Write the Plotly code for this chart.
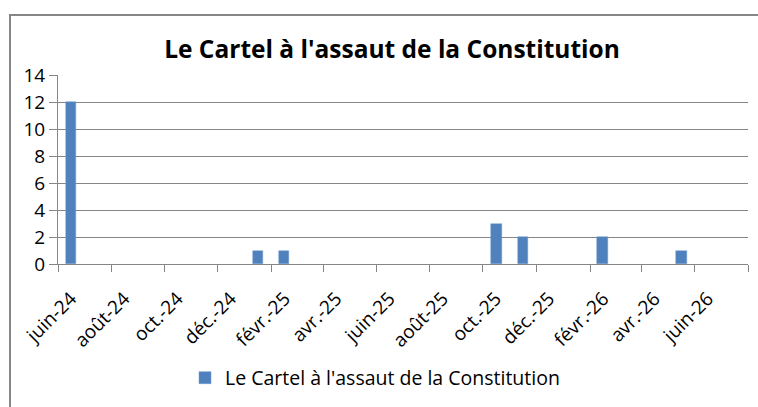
import plotly.graph_objects as go

# ---- data ----
series_name = "Le Cartel à l'assaut de la Constitution"
months = ["2024-06", "2025-01", "2025-02", "2025-10", "2025-11", "2026-02", "2026-05"]
values = [12, 1, 1, 3, 2, 2, 1]
tick_dates = ["2024-06-01", "2024-08-01", "2024-10-01", "2024-12-01", "2025-02-01",
              "2025-04-01", "2025-06-01", "2025-08-01", "2025-10-01", "2025-12-01",
              "2026-02-01", "2026-04-01", "2026-06-01", "2026-08-01"]
tick_labels = ["juin-24", "août-24", "oct.-24", "déc.-24", "févr.-25", "avr.-25",
               "juin-25", "août-25", "oct.-25", "déc.-25", "févr.-26", "avr.-26",
               "juin-26", ""]
x_range = ["2024-06-01", "2026-08-01"]

FONT = "Open Sans"
GRID = "#868686"
BAR = "#4F81BD"

fig = go.Figure()
fig.add_trace(go.Bar(
    x=[m + "-01" for m in months], y=values, name=series_name,
    xperiod="M1", xperiodalignment="middle",
    width=1.04e9,
    marker=dict(color=BAR, line=dict(color="#6F9BD0", width=0.5)),
    showlegend=True,
))

W, H = 758, 407
L, R, T, B = 58, 10, 75, 143
pw, ph = W - L - R, H - T - B

def px(x):
    return (x - L) / pw

def py(y):
    return (H - B - y) / ph

fig.update_layout(
    width=W, height=H,
    margin=dict(l=L, r=R, t=T, b=B, autoexpand=False),
    paper_bgcolor="white", plot_bgcolor="white",
    font=dict(family=FONT, color="#000000", size=18),
    title=dict(text="<b>" + series_name + "</b>", x=392 / W, xanchor="center",
               y=1 - 49 / H, yanchor="middle", font=dict(size=24.5, family=FONT)),
    bargap=0,
    xaxis=dict(
        type="date", range=x_range,
        tickmode="array", tickvals=tick_dates, ticktext=tick_labels,
        tickangle=-45, ticks="outside", ticklen=7, tickcolor=GRID, tickwidth=1,
        ticklabelshift=13, ticklabelstandoff=8,
        showline=True, linecolor=GRID, linewidth=1,
        showgrid=False, zeroline=False,
        tickfont=dict(size=19, family=FONT),
    ),
    yaxis=dict(
        range=[0, 14], dtick=2, tick0=0,
        ticks="outside", ticklen=8, tickcolor=GRID, tickwidth=1,
        showline=True, linecolor=GRID, linewidth=1,
        showgrid=True, gridcolor=GRID, gridwidth=1, zeroline=False,
        tickfont=dict(size=19, family=FONT),
    ),
    legend=dict(orientation="h", x=px(185), xanchor="left", y=py(378), yanchor="middle",
                font=dict(size=19.5, family=FONT), itemwidth=30,
                bgcolor="rgba(0,0,0,0)"),
    shapes=[dict(type="rect", xref="paper", yref="paper",
                 x0=px(10), x1=px(780), y0=py(430), y1=py(15),
                 line=dict(color=GRID, width=2), layer="below")],
)

fig.write_html("out.html", config={"displayModeBar": False},
               post_script="document.body.style.margin='0';")
